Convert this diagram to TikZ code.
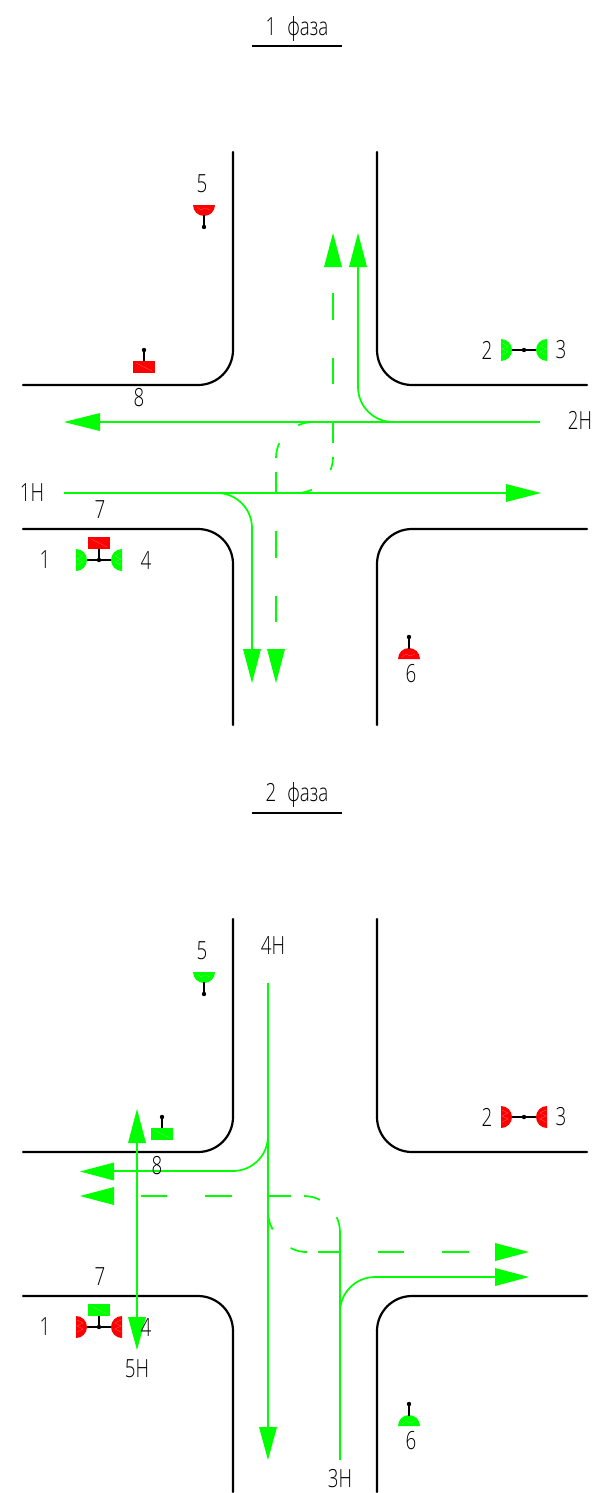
\documentclass[tikz,border=0pt]{standalone}
\usepackage{fontspec}
\setmainfont[FakeStretch=0.75]{Open Sans Light}
\definecolor{sgreen}{RGB}{0,255,0}
\definecolor{sred}{RGB}{255,0,0}
\tikzset{
 road/.style={draw=black,line width=2.2pt,line cap=round},
 lane/.style={draw=sgreen,line width=1.7pt},
 head/.style={fill=sgreen,draw=none},
 wire/.style={draw=black,line width=1.4pt},
 dotm/.style={fill=black,draw=none},
 lbl/.style={font=\fontsize{25}{28}\selectfont,text=black,inner sep=0pt,anchor=center},
 rule/.style={draw=black,line width=2pt},
 hatch/.style={draw=white,draw opacity=.35,line width=.3pt}
}
\newcommand{\rheadU}[3]{\fill[head] (#1,#2) -- (#1-9,#2) -- (#1,#3) -- (#1+9,#2) -- cycle;}
\newcommand{\rheadH}[3]{\fill[head] (#1,#3) -- (#1,#3-9) -- (#2,#3) -- (#1,#3+9) -- cycle;}
\newcommand{\crossroad}[1]{%
 \begin{scope}[yshift=-#1pt]
 \draw[road] (233,152) -- (233,350) arc[start angle=0,end angle=90,radius=35] -- (23,385);
 \draw[road] (377,152) -- (377,350) arc[start angle=180,end angle=90,radius=35] -- (587,385);
 \draw[road] (23,529) -- (198,529) arc[start angle=-90,end angle=0,radius=35] -- (233,725);
 \draw[road] (587,529) -- (412,529) arc[start angle=-90,end angle=-180,radius=35] -- (377,725);
 \end{scope}}
\newcommand{\pairsig}[4]{%
 \fill[#4] (#1-#3,#2-11) arc[start angle=-90,end angle=90,radius=11] -- cycle;
 \fill[#4] (#1+#3,#2-11) arc[start angle=-90,end angle=-270,radius=11] -- cycle;
 \draw[hatch] (#1-#3+1,#2-7) -- (#1-#3+7,#2-4) -- (#1-#3+1,#2-1) -- (#1-#3+7,#2+2) -- (#1-#3+1,#2+5);
 \draw[hatch] (#1+#3-1,#2-7) -- (#1+#3-7,#2-4) -- (#1+#3-1,#2-1) -- (#1+#3-7,#2+2) -- (#1+#3-1,#2+5);
 \draw[wire] (#1-#3+11,#2) -- (#1+#3-11,#2);
 \fill[dotm] (#1,#2) circle[radius=2.2];
}
\newcommand{\flagdown}[3]{%
 \fill[#3] (#1-11,#2) arc[start angle=180,end angle=0,radius=11] -- cycle;
 \draw[hatch] (#1-7,#2+2) -- (#1-3,#2+5) -- (#1+1,#2+3) -- (#1+6,#2+5);
 \draw[wire] (#1,#2+10) -- (#1,#2+22);
 \fill[dotm] (#1,#2+22) circle[radius=2.2];
}
\newcommand{\flagup}[3]{%
 \fill[#3] (#1-11,#2) arc[start angle=180,end angle=360,radius=11] -- cycle;
 \draw[hatch] (#1-7,#2-2) -- (#1-3,#2-5) -- (#1+1,#2-3) -- (#1+6,#2-5);
 \draw[wire] (#1,#2-10) -- (#1,#2-22);
 \fill[dotm] (#1,#2-22) circle[radius=2.2];
}
\newcommand{\rectsig}[3]{%
 \fill[#3] (#1-11,#2-6) rectangle (#1+11,#2+6);
 \draw[hatch] (#1-8,#2-4) -- (#1+8,#2+4);
}
\begin{document}
\begin{tikzpicture}[x=1pt,y=-1pt]
\useasboundingbox (0,0) rectangle (595,1493);
\fill[white] (0,0) rectangle (595,1493);

% ===== phase 1 =====
\node[lbl] (t1) at (297,29) {1\hspace{11pt}фаза};
\coordinate (u1a) at (252,46); \coordinate (u1b) at (342,46);
\draw[rule] (u1a) -- (u1b);
\crossroad{0}

\draw[lane] (540,422) -- (95,422);
\rheadH{100}{64}{422}
\draw[lane] (64,493) -- (510,493);
\rheadH{506}{541}{493}
\draw[lane] (393,422) arc[start angle=90,end angle=180,radius=35] -- (358,262);
\rheadU{358}{267}{233}
\draw[lane] (217,493) arc[start angle=-90,end angle=0,radius=35] -- (252,655);
\rheadU{252}{649}{683}
% dashed up
\rheadU{333}{267}{233}
\draw[lane] (333,293) -- (333,320);
\draw[lane] (333,358) -- (333,384);
\draw[lane] (333,422) -- (333,443);
\draw[lane] (333,457) arc[start angle=0,end angle=22,radius=35];
\draw[lane] (313,422) arc[start angle=-90,end angle=-115,radius=35];
\draw[lane] (276,493) -- (276,472);
\draw[lane] (276,458) arc[start angle=180,end angle=205,radius=35];
\draw[lane] (297,493) arc[start angle=90,end angle=65,radius=35];
% dashed down
\draw[lane] (276,531) -- (276,558);
\draw[lane] (276,596) -- (276,622);
\rheadU{276}{649}{683}

% signals phase 1
\flagdown{204}{205}{sred}
\draw[wire] (144,361) -- (144,350); \fill[dotm] (144,350) circle[radius=2.2];
\rectsig{144}{367}{sred}
\pairsig{524}{350}{23}{sgreen}
\pairsig{99}{560}{23}{sgreen}
\draw[wire] (99,549) -- (99,560);
\rectsig{99}{543}{sred}
\flagup{409}{659}{sred}

\node[lbl] (l5a) at (202,184) {5};
\node[lbl] (l8a) at (139,398) {8};
\node[lbl] (l2a) at (487,350) {2};
\node[lbl] (l3a) at (561,350) {3};
\node[lbl] (l2h) at (580,420) {2Н};
\node[lbl] (l1h) at (32,493) {1Н};
\node[lbl] (l7a) at (100,510) {7};
\node[lbl] (l1a) at (45,560) {1};
\node[lbl] (l4a) at (146,561) {4};
\node[lbl] (l6a) at (411,674) {6};

% ===== phase 2 =====
\node[lbl] (t2) at (297,795) {2\hspace{11pt}фаза};
\coordinate (u2a) at (252,813); \coordinate (u2b) at (342,813);
\draw[rule] (u2a) -- (u2b);
\crossroad{767}

\draw[lane] (268,983) -- (268,1432);
\rheadU{268}{1427}{1460}
\draw[lane] (268,1136) arc[start angle=0,end angle=90,radius=35] -- (110,1171);
\rheadH{114}{80}{1171.5}
\draw[lane] (340,1460) -- (340,1232);
\draw[lane] (340,1312) arc[start angle=180,end angle=270,radius=35] -- (500,1277);
\rheadH{495}{529}{1277}
\draw[lane] (137,1138) -- (137,1322);
\rheadU{137}{1143}{1109}
\rheadU{137}{1317}{1350}
% dashed
\rheadH{114}{80}{1196}
\draw[lane] (141,1196) -- (167,1196);
\draw[lane] (205,1196) -- (232,1196);
\draw[lane] (269,1196) -- (291,1196);
\draw[lane] (304,1196) arc[start angle=-90,end angle=-63,radius=35];
\draw[lane] (336.7,1217.2) arc[start angle=-25,end angle=0,radius=35];
\draw[lane] (268,1212) arc[start angle=180,end angle=150,radius=35];
\draw[lane] (290.6,1248) arc[start angle=118,end angle=90,radius=35];
\draw[lane] (318,1252) -- (340,1252);
\draw[lane] (378,1252) -- (404,1252);
\draw[lane] (442,1252) -- (469,1252);
\rheadH{495}{529}{1252}

% signals phase 2
\flagdown{204}{972}{sgreen}
\draw[wire] (162,1128) -- (162,1117); \fill[dotm] (162,1117) circle[radius=2.2];
\rectsig{162}{1134}{sgreen}
\pairsig{524}{1117}{23}{sred}
\pairsig{99}{1327}{23}{sred}
\draw[wire] (99,1316) -- (99,1327);
\rectsig{99}{1310}{sgreen}
\flagup{409}{1426}{sgreen}

\node[lbl] (l5b) at (202,951) {5};
\node[lbl] (l4h) at (273,946) {4Н};
\node[lbl] (l8b) at (157,1166) {8};
\node[lbl] (l2b) at (487,1117) {2};
\node[lbl] (l3b) at (561,1117) {3};
\node[lbl] (l7b) at (100,1277) {7};
\node[lbl] (l1b) at (45,1327) {1};
\node[lbl] (l4b) at (146,1328) {4};
\node[lbl] (l5h) at (137,1369) {5Н};
\node[lbl] (l6b) at (411,1441) {6};
\node[lbl] (l3h) at (340,1479) {3Н};
\end{tikzpicture}
\end{document}
